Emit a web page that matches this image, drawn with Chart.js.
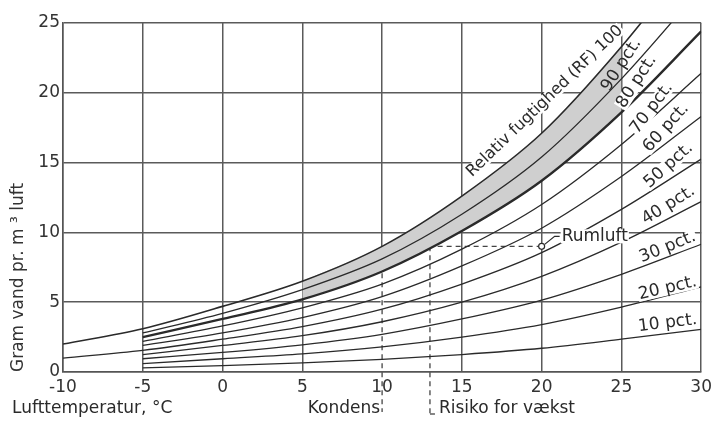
<!DOCTYPE html>
<html>
<head>
<meta charset="utf-8">
<script src="https://cdn.jsdelivr.net/npm/chart.js@4/dist/chart.umd.min.js"></script>
<style>
  html, body { margin: 0; padding: 0; background: #fff; }
</style>
</head>
<body>
<canvas id="chart" width="717" height="421"></canvas>
<script>
// air temperature, degC
const temps = [-10, -5, 0, 5, 10, 15, 20, 25, 30];

// gram water per m3 air for each relative humidity curve
const rh100 = [2.0, 3.1, 4.7, 6.5, 9.0, 12.6, 17.1, 23.3, 30.5];
const rh90 = [null, 2.8, 4.2, 5.9, 8.1, 11.3, 15.4, 21.0, 27.5];
const rh80 = [null, 2.5, 3.8, 5.2, 7.2, 10.1, 13.7, 18.6, 24.4];
const rh70 = [null, 2.2, 3.3, 4.6, 6.3, 8.8, 12.0, 16.3, 21.4];
const rh60 = [null, 1.9, 2.8, 3.9, 5.4, 7.6, 10.3, 14.0, 18.3];
const rh50 = [1.0, 1.55, 2.35, 3.25, 4.5, 6.3, 8.55, 11.65, 15.25];
const rh40 = [null, 1.25, 1.9, 2.6, 3.6, 5.0, 6.85, 9.3, 12.2];
const rh30 = [null, 0.95, 1.4, 1.95, 2.7, 3.8, 5.15, 7.0, 9.15];
const rh20 = [null, 0.6, 0.95, 1.3, 1.8, 2.5, 3.4, 4.65, 6.1];
const rh10 = [null, 0.3, 0.45, 0.65, 0.9, 1.25, 1.7, 2.35, 3.05];

// shaded risk band (between 100 and 80 pct.)
const bandFrom = 5;
const bandTo = 25;

// room air point and the two reference temperatures
const roomTemp = 20;
const roomWater = 9;
const kondensTemp = 10;
const risikoTemp = 13;

const xTicks = [-10, 30, 5];
const yTicks = [0, 25, 5];

const curveLabels = [
  { text: 'Relativ fugtighed (RF) 100', x: 20.2, y: 19.4, angle: -44, size: 16 },
  { text: '90 pct.', x: 25.0, y: 22.0, angle: -57, size: 17, noBg: true },
  { text: '80 pct.', x: 25.95, y: 20.8, angle: -57, size: 17 },
  { text: '70 pct.', x: 26.9, y: 18.9, angle: -53, size: 17 },
  { text: '60 pct.', x: 27.8, y: 17.5, angle: -48, size: 17 },
  { text: '50 pct.', x: 27.95, y: 14.8, angle: -42, size: 17 },
  { text: '40 pct.', x: 27.95, y: 11.95, angle: -32, size: 17 },
  { text: '30 pct.', x: 27.9, y: 8.95, angle: -22, size: 17 },
  { text: '20 pct.', x: 27.9, y: 6.0, angle: -13, size: 17 },
  { text: '10 pct.', x: 27.9, y: 3.5, angle: -7, size: 17 }
];

const FONT = "'DejaVu Sans', sans-serif";
const INK = '#2a2a2a';

function toPoints(values, from, to) {
  return temps
    .map((t, i) => ({ x: t, y: values[i] }))
    .filter(p => p.y !== null && p.x >= from && p.x <= to);
}

function curve(values, width) {
  return {
    data: toPoints(values, -Infinity, Infinity),
    borderColor: INK,
    borderWidth: width,
    pointRadius: 0,
    fill: false,
    cubicInterpolationMode: 'monotone'
  };
}

const datasets = [
  curve(rh100, 1.6),
  curve(rh90, 1.3),
  curve(rh80, 2.4),
  curve(rh70, 1.3),
  curve(rh60, 1.3),
  curve(rh50, 1.3),
  curve(rh40, 1.3),
  curve(rh30, 1.3),
  curve(rh20, 1.3),
  curve(rh10, 1.3),
  {
    data: toPoints(rh100, bandFrom, bandTo),
    borderWidth: 0,
    pointRadius: 0,
    fill: false,
    cubicInterpolationMode: 'monotone'
  },
  {
    data: toPoints(rh80, bandFrom, bandTo),
    borderWidth: 0,
    pointRadius: 0,
    fill: '-1',
    backgroundColor: '#cfcfcf',
    cubicInterpolationMode: 'monotone'
  }
];

function textBox(ctx, text, cx, cy, angle, size, bg) {
  ctx.save();
  ctx.translate(cx, cy);
  ctx.rotate(angle * Math.PI / 180);
  ctx.font = size + 'px ' + FONT;
  const w = ctx.measureText(text).width;
  if (bg) {
    ctx.fillStyle = '#fff';
    ctx.fillRect(-w / 2 - 1, -size * 0.42, w + 2, size * 0.84);
  }
  ctx.fillStyle = INK;
  ctx.textAlign = 'center';
  ctx.textBaseline = 'middle';
  ctx.fillText(text, 0, 0);
  ctx.restore();
}

const annotations = {
  id: 'annotations',
  beforeDatasetsDraw(chart) {
    const { ctx, scales: { x, y } } = chart;
    const xK = x.getPixelForValue(kondensTemp);
    const xR = x.getPixelForValue(risikoTemp);
    const xRoom = x.getPixelForValue(roomTemp);
    const yRoom = y.getPixelForValue(roomWater);
    ctx.save();
    // grid line under the kondens line is dashed in the original
    ctx.strokeStyle = '#fff';
    ctx.lineWidth = 3;
    ctx.beginPath();
    ctx.moveTo(xK, yRoom);
    ctx.lineTo(xK, y.bottom - 1);
    ctx.stroke();

    ctx.strokeStyle = '#444';
    ctx.lineWidth = 1.3;
    ctx.setLineDash([5, 4]);
    ctx.beginPath();
    ctx.moveTo(xRoom, yRoom);
    ctx.lineTo(xK, yRoom);
    ctx.moveTo(xK, yRoom);
    ctx.lineTo(xK, y.bottom + 40);
    ctx.moveTo(xR, yRoom);
    ctx.lineTo(xR, y.bottom + 42);
    ctx.stroke();
    ctx.setLineDash([]);
    ctx.beginPath();
    ctx.moveTo(xR, y.bottom + 42);
    ctx.lineTo(xR + 5, y.bottom + 42);
    ctx.stroke();
    ctx.restore();
  },
  afterDraw(chart) {
    const { ctx, scales: { x, y } } = chart;
    const xK = x.getPixelForValue(kondensTemp);
    const xR = x.getPixelForValue(risikoTemp);
    const xRoom = x.getPixelForValue(roomTemp);
    const yRoom = y.getPixelForValue(roomWater);

    curveLabels.forEach(l => {
      textBox(ctx, l.text, x.getPixelForValue(l.x), y.getPixelForValue(l.y), l.angle, l.size, !l.noBg);
    });

    ctx.save();
    // room air marker and leader
    ctx.strokeStyle = INK;
    ctx.lineWidth = 1.2;
    ctx.beginPath();
    ctx.moveTo(xRoom + 3, yRoom - 2);
    ctx.lineTo(xRoom + 13, yRoom - 10);
    ctx.lineTo(xRoom + 18, yRoom - 10);
    ctx.stroke();
    ctx.fillStyle = '#fff';
    ctx.beginPath();
    ctx.arc(xRoom, yRoom, 3, 0, Math.PI * 2);
    ctx.fill();
    ctx.stroke();

    ctx.font = '17px ' + FONT;
    ctx.textBaseline = 'middle';
    const rw = ctx.measureText('Rumluft').width;
    ctx.fillStyle = '#fff';
    ctx.fillRect(xRoom + 19, yRoom - 17, rw + 2, 14);
    ctx.fillStyle = INK;
    ctx.textAlign = 'left';
    ctx.fillText('Rumluft', xRoom + 20, yRoom - 10);

    // bottom texts
    const yText = y.bottom + 37;
    ctx.textAlign = 'left';
    ctx.fillText('Lufttemperatur, °C', 12, yText);
    ctx.textAlign = 'right';
    ctx.fillText('Kondens', xK - 2, yText);
    ctx.textAlign = 'left';
    ctx.fillText('Risiko for vækst', xR + 9, yText);
    ctx.restore();
  }
};

new Chart(document.getElementById('chart'), {
  type: 'line',
  data: { datasets },
  options: {
    responsive: false,
    animation: false,
    layout: { padding: { top: 23, right: 15, left: 0, bottom: 0 } },
    plugins: {
      legend: { display: false },
      tooltip: { enabled: false }
    },
    scales: {
      x: {
        type: 'linear',
        min: xTicks[0],
        max: xTicks[1],
        ticks: {
          stepSize: xTicks[2],
          padding: 5,
          color: '#333',
          font: { family: FONT, size: 17 }
        },
        grid: { color: '#5a5a5a', lineWidth: 1.5, drawTicks: false },
        border: { color: '#555', width: 1.5 },
        afterFit(scale) { scale.height = 49; }
      },
      y: {
        min: yTicks[0],
        max: yTicks[1],
        ticks: {
          stepSize: yTicks[2],
          padding: 3,
          color: '#333',
          font: { family: FONT, size: 17 }
        },
        grid: { color: '#5a5a5a', lineWidth: 1.5, drawTicks: false },
        border: { color: '#555', width: 1.5 },
        title: {
          display: true,
          text: 'Gram vand pr. m ³ luft',
          align: 'start',
          color: '#333',
          padding: { top: 8, bottom: 0 },
          font: { family: FONT, size: 17 }
        },
        afterFit(scale) { scale.width = 63; }
      }
    }
  },
  plugins: [annotations]
});
</script>
</body>
</html>
